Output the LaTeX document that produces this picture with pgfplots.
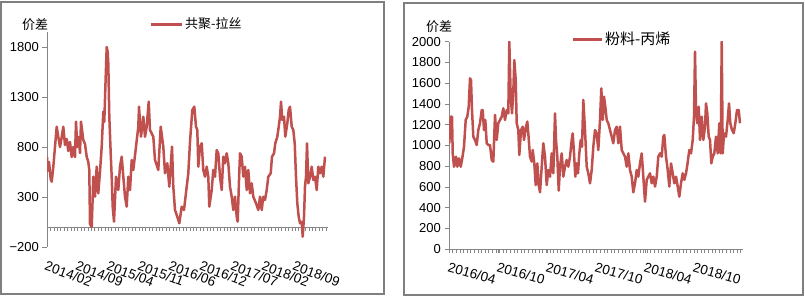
\documentclass[border=0pt]{standalone}
\usepackage{fontspec}
\setmainfont{Liberation Sans}
\newfontfamily\cjk{Noto Sans CJK SC}
\usepackage{pgfplots}
\pgfplotsset{compat=1.18}
\definecolor{lineRed}{HTML}{C0504D}
\definecolor{axGray}{HTML}{868686}
\definecolor{boxGray}{HTML}{7F7F7F}
\begin{document}
\begin{tikzpicture}[x=1bp,y=1bp]
\path[use as bounding box] (0,0) rectangle (805,299);
\draw[boxGray, line width=1.2bp] (1,5) rectangle (384,297);
\draw[boxGray, line width=1.2bp] (404,4) rectangle (803,296);
\node[font=\cjk\fontsize{13bp}{15bp}\selectfont] at (35,274) {价差};
\node[font=\cjk\fontsize{13bp}{15bp}\selectfont] at (439,272) {价差};

\begin{axis}[
  at={(47bp,52bp)}, anchor=south west,
  scale only axis, width=281bp, height=215bp,
  xmin=0, xmax=281, ymin=-200, ymax=1950,
  axis x line=bottom, axis y line=left,
  x axis line style={draw=none},
  y axis line style={-, axGray, line width=0.8bp},
  ytick={-200,300,800,1300,1800},
  yticklabels={−200,300,800,1300,1800},
  xtick={0,31,62,93,124,155,186,217,248},
  xticklabels={2014/02,2014/09,2015/04,2015/11,2016/06,2016/12,2017/07,2018/02,2018/09},
  tick align=outside,
  ytick style={axGray, line width=0.8bp},
  major tick length=5bp,
  xtick style={draw=none},
  yticklabel style={font=\fontsize{13bp}{15bp}\selectfont, inner sep=0pt, xshift=-3bp},
  xticklabel style={font=\fontsize{13.5bp}{15bp}\selectfont, rotate=-20, anchor=north west, inner sep=0pt, yshift=-8bp, xshift=3bp},
  legend style={at={(0.363,1.037)}, anchor=west, draw=none, fill=none, inner sep=0pt,
    font=\cjk\fontsize{13bp}{15bp}\selectfont},
  legend image code/.code={\draw[#1, line width=3bp] (0bp,0bp) -- (31bp,0bp);},
]
\draw[axGray, line width=0.8bp] (axis cs:0,0) -- (axis cs:281,0);
\pgfplotsinvokeforeach{0,3.4,...,280}{\draw[axGray, line width=0.6bp] (axis cs:#1,0) -- (axis cs:#1,-40);}
\addplot[lineRed, line width=2.5bp, line join=round] coordinates {
(0,700)(0.7,560)(2,650)(3.7,480)(4.7,453)(6.3,600)(8,803)(9.7,1003)(11.3,900)(13,800)(14.7,900)(16.3,1003)(18,820)(19.7,880)(21.3,760)(23,850)(24.7,700)(26.3,800)(28,700)(29,1053)(30.3,800)(31.7,900)(33,740)(34,1053)(35.3,950)(36.3,870)(38,830)(39.7,703)(41.3,650)(42.3,570)(43,30)(44.7,0)(45.7,300)(46.3,503)(48,303)(49.7,603)(51.3,337)(53,553)(54.7,803)(56.3,1153)(57.3,1053)(58.7,1503)(59.7,1800)(60.7,1750)(61.3,1637)(62.3,1103)(63.7,737)(64.7,500)(65.7,203)(67,53)(69,503)(71.3,370)(73,603)(74.7,703)(76.3,503)(78,303)(79.7,203)(81.3,503)(83,370)(84.7,670)(86.3,570)(89,803)(91.3,1003)(92,1203)(94,903)(96.3,1103)(98,903)(99.7,1003)(101.7,1253)(103,970)(106.3,903)(108,670)(111.3,570)(113.7,1003)(116.3,803)(118,537)(120.3,637)(122.3,403)(125,803)(126.3,403)(128,170)(130.3,103)(132.3,37)(134.7,203)(137,170)(139.7,403)(141.3,537)(143,853)(145.3,1170)(147.3,1203)(149,1003)(150.3,970)(151.3,603)(153,803)(154.7,837)(156.3,570)(158,503)(159.7,603)(161.3,503)(162.3,203)(164.7,370)(166.3,570)(168,503)(169.7,770)(171.3,737)(173,503)(174.7,370)(176.3,703)(178,637)(179.7,737)(181.3,637)(183,403)(184.7,303)(186.3,170)(188,303)(189.7,103)(190.7,53)(192,470)(193,737)(194.7,703)(196.3,503)(198,603)(199.7,370)(201.3,570)(203,337)(204.7,437)(206.3,303)(209,237)(211.3,170)(213,303)(214.7,170)(216.3,303)(218,270)(219.7,370)(221.3,503)(223.7,537)(225,703)(227,737)(228.3,837)(230.3,903)(231.7,1003)(233,1103)(234,1253)(235.3,1070)(237,1103)(238.3,903)(240.3,1037)(241.7,1170)(243,1203)(244.7,1003)(246.3,970)(247.7,837)(249,503)(250.3,237)(251.7,103)(253,37)(254.7,53)(255.7,-97)(257,103)(258,403)(259,503)(260,837)(261.3,437)(263,503)(264.7,603)(266.3,470)(268,503)(269.7,370)(271.3,603)(273,537)(274.7,603)(276.3,503)(278,703)
};
\addlegendentry{共聚-拉丝}
\end{axis}

\begin{axis}[
  at={(449bp,50bp)}, anchor=south west,
  scale only axis, width=294bp, height=207.3bp,
  xmin=0, xmax=294, ymin=0, ymax=2000,
  axis x line=bottom, axis y line=left,
  axis line style={-, axGray, line width=0.8bp},
  ytick={0,200,...,2000},
  yticklabels={0,200,400,600,800,1000,1200,1400,1600,1800,2000},
  xtick={0,49,98,147,196,245},
  xticklabels={2016/04,2016/10,2017/04,2017/10,2018/04,2018/10},
  minor xtick={0,3.6,...,294},
  tick align=outside,
  tick style={axGray, line width=0.6bp},
  major tick length=4bp, minor tick length=4bp,
  yticklabel style={font=\fontsize{13bp}{15bp}\selectfont, inner sep=0pt, xshift=-4bp},
  xticklabel style={font=\fontsize{13.5bp}{15bp}\selectfont, rotate=-16, anchor=north west, inner sep=0pt, yshift=-8bp, xshift=3bp},
  legend style={at={(0.415,1.013)}, anchor=west, draw=none, fill=none, inner sep=0pt,
    font=\cjk\fontsize{15bp}{17bp}\selectfont},
  legend image code/.code={\draw[#1, line width=3bp] (0bp,0bp) -- (29bp,0bp);},
]
\addplot[lineRed, line width=2.5bp, line join=round] coordinates {
(0.3,1020)(1.7,1277)(3,1277)(3.7,923)(5,794)(7,891)(8.3,794)(10,875)(11.7,794)(13,859)(15,987)(16.7,1245)(18.3,1277)(19.7,1373)(21,1647)(22,1630)(23,1341)(24.3,1084)(26,1052)(27.7,1003)(29.3,1148)(31,1213)(32.7,1341)(33.7,1341)(35,1148)(36.3,1245)(37.7,1020)(39.3,1003)(41,1003)(42.7,859)(44.3,843)(46,1293)(47.7,1052)(49.3,1213)(51,1245)(52.7,1277)(54.3,1357)(56,1245)(57.7,1341)(59.3,1309)(60.3,2000)(61.7,1470)(63,1309)(64.3,1518)(65.3,1823)(66.7,1630)(67.7,1213)(69.3,1148)(70.3,907)(72,1148)(73.7,1180)(75,1052)(77,1180)(78.3,1229)(79.3,1116)(81,891)(82.7,843)(83.7,955)(85.3,826)(86.7,617)(88.3,826)(89.7,617)(91,547)(92.7,794)(94.3,1020)(96,891)(97.7,617)(99.3,762)(101,698)(102.7,923)(104.3,730)(106,1309)(107,1052)(108.3,891)(109.7,563)(111,794)(112.7,923)(114.3,698)(116,794)(117.7,859)(119.3,794)(121,891)(122.7,1052)(123.7,1116)(125,923)(126.3,698)(127.7,826)(129,730)(130.3,923)(131.7,1052)(133,987)(134.3,1438)(136,1148)(137.7,794)(139.3,730)(141,634)(142.7,762)(144.3,987)(146,1148)(147.7,1116)(149.3,955)(151,1245)(152.3,1550)(153.7,1245)(155,1470)(156.3,1373)(157.7,1245)(159.3,1213)(161,1148)(162.7,1084)(164.3,1020)(166,1148)(167.7,1180)(169.3,1020)(171,1180)(172.7,955)(174.3,923)(176,891)(177.7,794)(179.3,923)(181,762)(182.7,698)(184.3,547)(186,634)(187.7,762)(189.3,698)(191,826)(192.7,923)(194.3,698)(196,457)(197.7,667)(199.3,698)(201,730)(202.7,634)(204.3,698)(206,602)(207.7,698)(209.3,891)(211,923)(212.7,891)(214.3,1084)(215.3,1100)(217,891)(218.7,762)(220.3,602)(222,826)(223.7,730)(225.3,634)(227,698)(228.7,602)(230.3,505)(232,634)(233.7,730)(235.3,667)(237,730)(238.3,810)(240.3,955)(242,923)(243.7,1052)(245,1277)(246,1904)(247,1341)(248.3,1213)(249.7,1373)(251,1052)(252.7,1277)(254.3,1052)(256,1180)(257,1405)(258.3,1309)(259.7,1084)(261,1052)(262.3,826)(263.7,891)(265.3,923)(267,1084)(268.7,923)(270.3,1213)(271.7,923)(272.7,2000)(273.7,923)(275,1116)(277,1084)(278.7,1245)(280,1405)(281.3,1213)(283,1148)(284.7,1116)(286.3,1213)(288,1341)(289.7,1341)(291,1213)
};
\addlegendentry{粉料-丙烯}
\end{axis}
\end{tikzpicture}
\end{document}
